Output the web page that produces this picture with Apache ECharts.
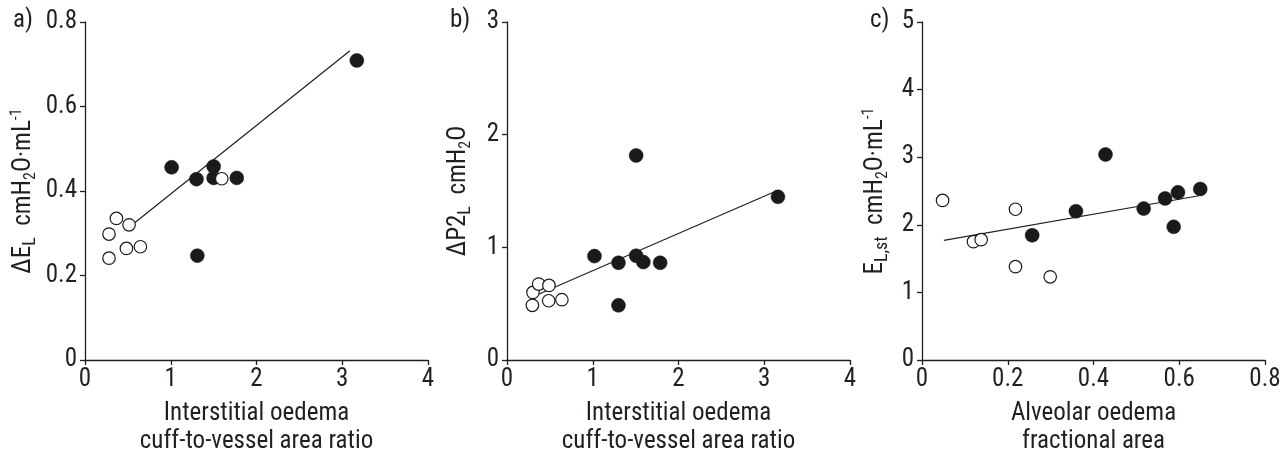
<!DOCTYPE html>
<html>
<head>
<meta charset="utf-8">
<script src="https://cdn.jsdelivr.net/npm/echarts@6/dist/echarts.min.js"></script>
<style>
  html, body { margin: 0; padding: 0; background: #fff; }
  #chart { width: 1288px; height: 452px; }
</style>
</head>
<body>
<div id="chart"></div>
<script>
// a) delta EL vs interstitial oedema
const aOpen = [[0.28, 0.241], [0.28, 0.298], [0.366, 0.335], [0.483, 0.264], [0.514, 0.320], [0.646, 0.268], [1.595, 0.429]]
const aFilled = [[1.01, 0.456], [1.30, 0.428], [1.31, 0.247], [1.50, 0.458], [1.50, 0.431], [1.77, 0.431], [3.17, 0.709]]
const aFit = [[0.58, 0.325], [3.09, 0.732]]

// b) delta P2L vs interstitial oedema
const bOpen = [[0.296, 0.485], [0.303, 0.60], [0.369, 0.674], [0.486, 0.526], [0.489, 0.662], [0.64, 0.535]]
const bFilled = [[1.02, 0.922], [1.30, 0.863], [1.30, 0.485], [1.506, 1.815], [1.506, 0.925], [1.59, 0.869], [1.786, 0.863], [3.16, 1.448]]
const bFit = [[0.30, 0.561], [3.14, 1.50]]

// c) EL,st vs alveolar oedema
const cOpen = [[0.048, 2.36], [0.12, 1.75], [0.138, 1.78], [0.218, 2.23], [0.218, 1.38], [0.299, 1.23]]
const cFilled = [[0.257, 1.845], [0.359, 2.20], [0.428, 3.04], [0.517, 2.24], [0.567, 2.39], [0.587, 1.97], [0.597, 2.48], [0.649, 2.53]]
const cFit = [[0.051, 1.77], [0.646, 2.43]]

const xRanges = [[0, 4, 1], [0, 4, 1], [0, 0.8, 0.2]]
const yRanges = [[0, 0.8, 0.2], [0, 3, 1], [0, 5, 1]]
const xNames = [
  'Interstitial oedema\ncuff-to-vessel area ratio',
  'Interstitial oedema\ncuff-to-vessel area ratio',
  'Alveolar oedema\nfractional area'
]
const yNames = [
  '{n|ΔE}{s|L}{n|  cmH}{sub|2}{n|O·mL}{sup|-1}',
  '{n|ΔP2}{s|L}{n|  cmH}{sub|2}{n|O}',
  '{n|E}{s|L,st}{n|  cmH}{sub|2}{n|O·mL}{sup|-1}'
]
const panelLabels = ['a)', 'b)', 'c)']

const FONT = '"Roboto Condensed", Roboto, sans-serif'
const INK = '#231f20'
const SIZE = 25
const gridLefts = [85, 507, 922]
const nameGaps = [46, 33, 31]
const labelLefts = [13, 450, 870]

const rich = {
  n: { fontFamily: FONT, fontSize: SIZE, lineHeight: 30, color: INK, verticalAlign: 'middle' },
  s: { fontFamily: FONT, fontSize: 18, lineHeight: 25, color: INK, verticalAlign: 'bottom' },
  sub: { fontFamily: FONT, fontSize: 16, lineHeight: 16, color: INK, verticalAlign: 'bottom' },
  sup: { fontFamily: FONT, fontSize: 16, lineHeight: 16, color: INK, verticalAlign: 'top' }
}

const axisLine = { show: true, lineStyle: { color: INK, width: 1.3 } }
const axisTick = { show: true, inside: false, length: 5, lineStyle: { color: INK, width: 1.3 } }
const axisLabel = { fontFamily: FONT, fontSize: SIZE, color: INK, margin: 7 }

const grid = [], xAxis = [], yAxis = [], series = [], graphic = []
const sets = [[aOpen, aFilled, aFit], [bOpen, bFilled, bFit], [cOpen, cFilled, cFit]]

for (let i = 0; i < 3; i++) {
  grid.push({ left: gridLefts[i], top: 22, width: 343, height: 338, containLabel: false, outerBoundsMode: 'none' })
  xAxis.push({
    gridIndex: i, type: 'value',
    min: xRanges[i][0], max: xRanges[i][1], interval: xRanges[i][2],
    axisLine, axisTick, axisLabel, splitLine: { show: false },
    name: xNames[i], nameLocation: 'middle', nameGap: 40,
    nameTextStyle: { fontFamily: FONT, fontSize: SIZE, lineHeight: 28, color: INK }
  })
  yAxis.push({
    gridIndex: i, type: 'value',
    min: yRanges[i][0], max: yRanges[i][1], interval: yRanges[i][2],
    axisLine, axisTick, axisLabel: { ...axisLabel, margin: 8 }, splitLine: { show: false },
    name: yNames[i], nameLocation: 'middle', nameGap: nameGaps[i], nameRotate: 90,
    nameTextStyle: { rich }
  })
  const [open, filled, fit] = sets[i]
  series.push({
    type: 'line', xAxisIndex: i, yAxisIndex: i, data: fit,
    showSymbol: false, symbol: 'none', silent: true,
    lineStyle: { color: INK, width: 1.2 }, z: 1
  })
  series.push({
    type: 'scatter', xAxisIndex: i, yAxisIndex: i, data: filled,
    symbol: 'circle', symbolSize: 14,
    itemStyle: { color: '#1a1a1a', borderColor: '#1a1a1a', borderWidth: 0.5, opacity: 1 }, z: 2
  })
  series.push({
    type: 'scatter', xAxisIndex: i, yAxisIndex: i, data: open,
    symbol: 'circle', symbolSize: 12.5,
    itemStyle: { color: '#fff', borderColor: '#1a1a1a', borderWidth: 1.2, opacity: 1 }, z: 3
  })
  graphic.push({
    type: 'text', left: labelLefts[i], top: 8,
    style: { text: panelLabels[i], fontFamily: FONT, fontSize: SIZE, fill: INK }
  })
}

const chart = echarts.init(document.getElementById('chart'))
chart.setOption({
  backgroundColor: '#fff',
  animation: false,
  grid, xAxis, yAxis, series, graphic
})
</script>
</body>
</html>
